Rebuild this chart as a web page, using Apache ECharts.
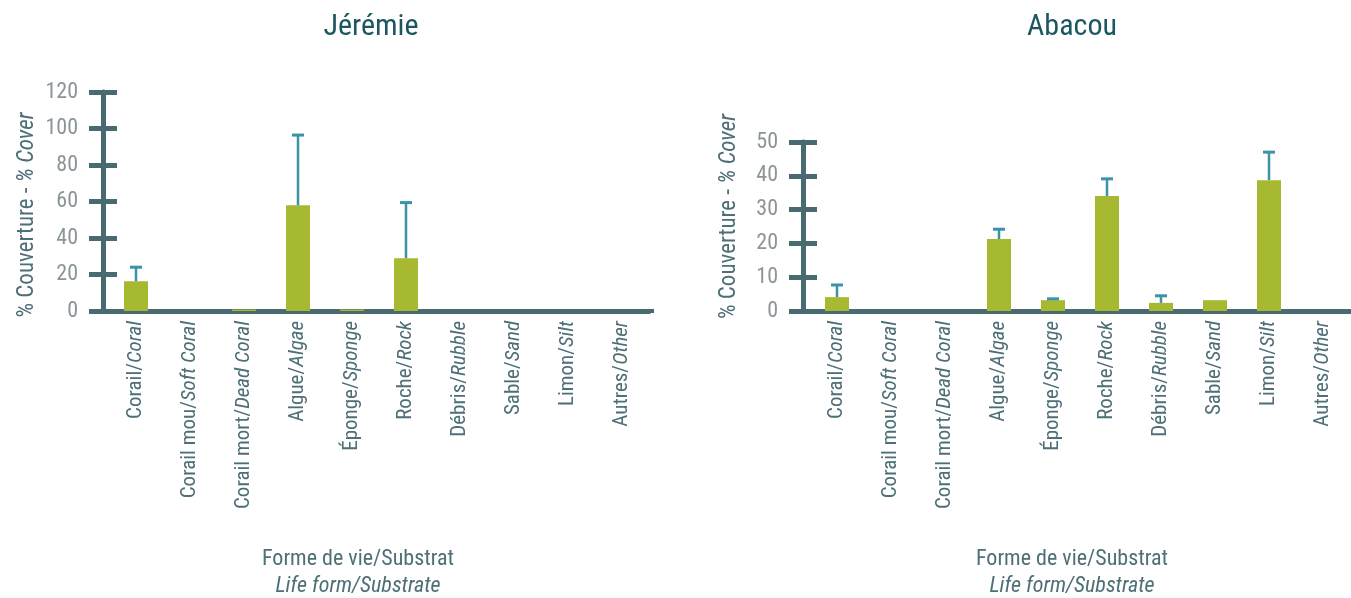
<!DOCTYPE html>
<html>
<head>
<meta charset="utf-8">
<script src="https://cdn.jsdelivr.net/npm/echarts@6/dist/echarts.min.js"></script>
<style>
  html, body { margin: 0; padding: 0; background: #ffffff; }
  #chart { width: 1351px; height: 598px; }
</style>
</head>
<body>
<div id="chart"></div>
<script>
// Benthic cover by life form / substrate at two sites
const categoriesFr = ['Corail', 'Corail mou', 'Corail mort', 'Algue', 'Éponge', 'Roche', 'Débris', 'Sable', 'Limon', 'Autres'];
const categoriesEn = ['Coral', 'Soft Coral', 'Dead Coral', 'Algae', 'Sponge', 'Rock', 'Rubble', 'Sand', 'Silt', 'Other'];

const jeremieCover = [16.3, 0, 0.8, 57.9, 0.8, 28.9, 0, 0, 0, 0];
const jeremieError = [7.7, 0, 0, 38.5, 0, 30.5, 0, 0, 0, 0];

const abacouCover = [4.1, 0, 0, 21.3, 3.2, 34.0, 2.4, 3.2, 38.7, 0];
const abacouError = [3.6, 0, 0, 2.9, 0.4, 5.1, 2.1, 0, 8.3, 0];

const jeremieTicks = { min: 0, max: 120, interval: 20 };
const abacouTicks = { min: 0, max: 50, interval: 10 };

const FONT = "'Liberation Sans Narrow', 'Roboto Condensed', 'Roboto', sans-serif";
const AXIS_COLOR = '#4a6a71';
const BAR_COLOR = '#a6b930';
const ERR_COLOR = '#3a93a6';
const LABEL_COLOR = '#4e6f77';
const TICK_LABEL_COLOR = '#8b9498';
const TITLE_COLOR = '#1b5661';

const catLabels = categoriesFr.map((fr, i) => fr + '/{i|' + categoriesEn[i] + '}');

function errorData(values, errors) {
  const out = [];
  values.forEach((v, i) => { if (errors[i] > 0) out.push([i, v, errors[i]]); });
  return out;
}

// Upper error whisker with a flat cap
function renderError(params, api) {
  const x = api.value(0), v = api.value(1), e = api.value(2);
  const base = api.coord([x, v]);
  const top = api.coord([x, v + e]);
  const half = 6;
  return {
    type: 'group',
    children: [
      { type: 'line', shape: { x1: base[0], y1: base[1], x2: top[0], y2: top[1] },
        style: { stroke: ERR_COLOR, lineWidth: 2.5 } },
      { type: 'line', shape: { x1: top[0] - half, y1: top[1], x2: top[0] + half, y2: top[1] },
        style: { stroke: ERR_COLOR, lineWidth: 3 } }
    ]
  };
}

// Category axis; rect end-symbols let the base line run past the first and last bands.
function xAxisFor(gridIndex, endOffset) {
  return {
    type: 'category', gridIndex, data: catLabels,
    axisLine: { show: true, lineStyle: { color: AXIS_COLOR, width: 5 },
      symbol: ['rect', 'rect'], symbolSize: [4, 40], symbolOffset: [0, endOffset] },
    axisTick: { show: false },
    axisLabel: {
      rotate: 90, interval: 0, margin: 10, fontFamily: FONT, fontSize: 21, color: LABEL_COLOR,
      rich: { i: { fontFamily: FONT, fontSize: 21, fontStyle: 'italic', color: LABEL_COLOR } }
    }
  };
}

// Two overlapping value axes: one carries outward ticks and labels, the other inward ticks,
// so each tick mark crosses the axis line.
function yAxesFor(gridIndex, ticks, offset, nameGap, namePad) {
  return [{
    type: 'value', gridIndex, position: 'left', min: ticks.min, max: ticks.max, interval: ticks.interval, offset,
    axisLine: { show: true, lineStyle: { color: AXIS_COLOR, width: 5 } },
    axisTick: { show: true, length: 14, lineStyle: { color: AXIS_COLOR, width: 5 } },
    axisLabel: { margin: 25, fontFamily: FONT, fontSize: 22, color: TICK_LABEL_COLOR },
    splitLine: { show: false },
    name: '% Couverture - {i|% Cover}', nameLocation: 'middle', nameRotate: 90, nameGap,
    nameTextStyle: { fontFamily: FONT, fontSize: 23, color: LABEL_COLOR, padding: namePad,
      rich: { i: { fontFamily: FONT, fontSize: 23, fontStyle: 'italic', color: LABEL_COLOR } } }
  }, {
    type: 'value', gridIndex, position: 'left', min: ticks.min, max: ticks.max, interval: ticks.interval, offset,
    axisLine: { show: false },
    axisTick: { show: true, inside: true, length: 14, lineStyle: { color: AXIS_COLOR, width: 5 } },
    axisLabel: { show: false },
    splitLine: { show: false }
  }];
}

function siteTitle(text, center, top) {
  return { text, left: center, top, textAlign: 'center', padding: 0,
    textStyle: { fontFamily: FONT, fontSize: 30, fontWeight: 'normal', color: TITLE_COLOR } };
}

function bottomTitle(center) {
  return { text: 'Forme de vie/Substrat', subtext: 'Life form/Substrate', left: center, top: 548,
    textAlign: 'center', padding: 0, itemGap: 5,
    textStyle: { fontFamily: FONT, fontSize: 22, fontWeight: 'normal', color: LABEL_COLOR },
    subtextStyle: { fontFamily: FONT, fontSize: 22, fontStyle: 'italic', color: LABEL_COLOR } };
}

const chart = echarts.init(document.getElementById('chart'), null, { renderer: 'canvas' });
chart.setOption({
  animation: false,
  backgroundColor: '#ffffff',
  title: [
    siteTitle('Jérémie', 371, 12),
    siteTitle('Abacou', 1072, 12),
    bottomTitle(358),
    bottomTitle(1072)
  ],
  grid: [
    { left: 109, top: 92, width: 540, height: 219 },
    { left: 810, top: 142, width: 540, height: 169 }
  ],
  xAxis: [xAxisFor(0, -15), xAxisFor(1, -19)],
  yAxis: [
    ...yAxesFor(0, jeremieTicks, 6, 64, [0, 27, 0, 0]),
    ...yAxesFor(1, abacouTicks, 7, 62, [0, 0, 0, 20])
  ],
  series: [
    { type: 'bar', xAxisIndex: 0, yAxisIndex: 0, data: jeremieCover, barWidth: 24,
      itemStyle: { color: BAR_COLOR } },
    { type: 'custom', xAxisIndex: 0, yAxisIndex: 0, data: errorData(jeremieCover, jeremieError),
      renderItem: renderError, z: 3 },
    { type: 'bar', xAxisIndex: 1, yAxisIndex: 2, data: abacouCover, barWidth: 24,
      itemStyle: { color: BAR_COLOR } },
    { type: 'custom', xAxisIndex: 1, yAxisIndex: 2, data: errorData(abacouCover, abacouError),
      renderItem: renderError, z: 3 }
  ]
});
</script>
</body>
</html>
